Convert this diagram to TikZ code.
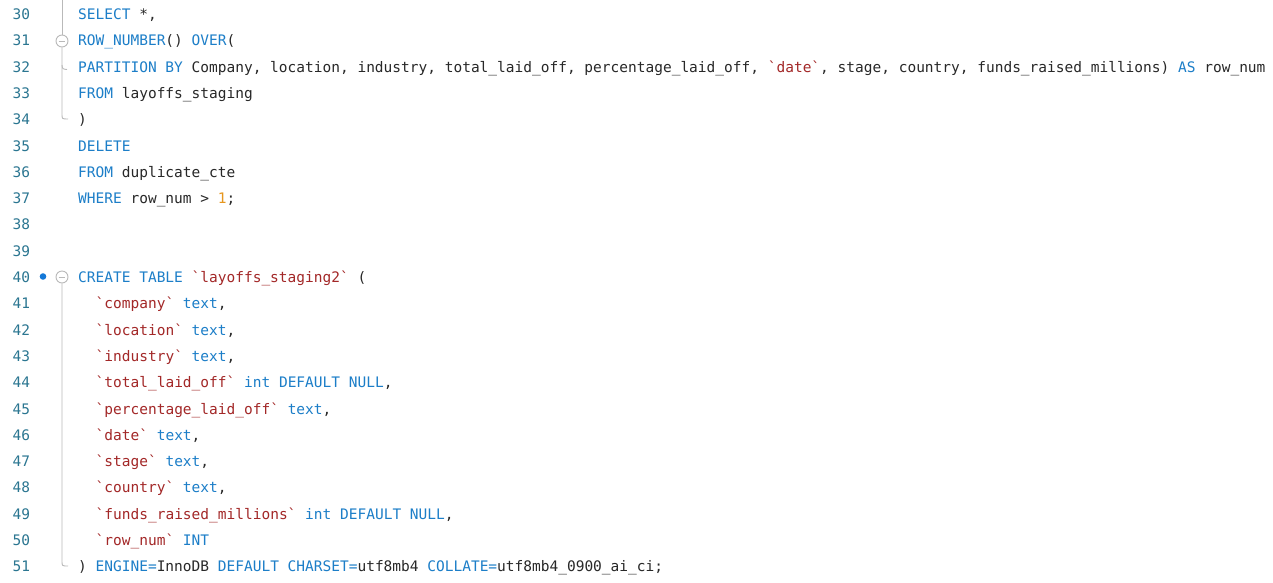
\documentclass[tikz,border=0pt]{standalone}
\usepackage{fontspec}
\setmonofont{DejaVu Sans Mono}
\usepackage{xcolor}
\usepackage{tikz}
\definecolor{kwblue}{RGB}{28,126,200}
\definecolor{strred}{RGB}{163,40,40}
\definecolor{numorange}{RGB}{230,150,30}
\definecolor{lnblue}{RGB}{43,118,145}
\definecolor{plain}{RGB}{40,40,40}
\definecolor{foldgray}{RGB}{185,185,185}
\definecolor{dotblue}{RGB}{20,120,215}
\newcommand{\kw}[1]{\textcolor{kwblue}{#1}}
\newcommand{\strq}[1]{\textcolor{strred}{#1}}
\newcommand{\numlit}[1]{\textcolor{numorange}{#1}}
\frenchspacing

\begin{document}
\begin{tikzpicture}[x=1pt, y=-1pt,
		code/.style={anchor=base west, inner sep=0, text=plain, font=\ttfamily\fontsize{14.5}{17}\selectfont},
		lnum/.style={code, text=lnblue},
		fold/.style={draw=foldgray, line width=0.9pt},
		foldbox/.style={circle, fold, fill=white, minimum size=12pt, inner sep=0}]
		\fill[white] (0,0) rectangle (1273,582);
		\useasboundingbox (0,0) rectangle (1273,582);

		% line numbers
		\foreach \n in {30,...,51}
			\node[lnum] (n\n) at (12.5, {19.5+(\n-30)*26.3}) {\n};

		\node[code] (l30) at (78,19.5) {\kw{SELECT} *,};
		\node[code] (l31) at (78,45.8) {\kw{ROW\_NUMBER}() \kw{OVER}(};
		\node[code] (l32) at (78,72.1) {\kw{PARTITION BY} Company, location, industry, total\_laid\_off, percentage\_laid\_off, \strq{`date`}, stage, country, funds\_raised\_millions) \kw{AS} row\_num};
		\node[code] (l33) at (78,98.4) {\kw{FROM} layoffs\_staging};
		\node[code] (l34) at (78,124.7) {)};
		\node[code] (l35) at (78,151.0) {\kw{DELETE}};
		\node[code] (l36) at (78,177.3) {\kw{FROM} duplicate\_cte};
		\node[code] (l37) at (78,203.6) {\kw{WHERE} row\_num > \numlit{1};};

		\node[code] (l40) at (78,282.5) {\kw{CREATE TABLE} \strq{`layoffs\_staging2`} (};
		\node[code] (l41) at (95.5,308.8) {\strq{`company`} \kw{text},};
		\node[code] (l42) at (95.5,335.1) {\strq{`location`} \kw{text},};
		\node[code] (l43) at (95.5,361.4) {\strq{`industry`} \kw{text},};
		\node[code] (l44) at (95.5,387.7) {\strq{`total\_laid\_off`} \kw{int DEFAULT NULL},};
		\node[code] (l45) at (95.5,414.0) {\strq{`percentage\_laid\_off`} \kw{text},};
		\node[code] (l46) at (95.5,440.3) {\strq{`date`} \kw{text},};
		\node[code] (l47) at (95.5,466.6) {\strq{`stage`} \kw{text},};
		\node[code] (l48) at (95.5,492.9) {\strq{`country`} \kw{text},};
		\node[code] (l49) at (95.5,519.2) {\strq{`funds\_raised\_millions`} \kw{int DEFAULT NULL},};
		\node[code] (l50) at (95.5,545.5) {\strq{`row\_num`} \kw{INT}};
		\node[code] (l51) at (78,571.8) {) \kw{ENGINE=}InnoDB \kw{DEFAULT CHARSET=}utf8mb4 \kw{COLLATE=}utf8mb4\_0900\_ai\_ci;};

		% fold markers
		\coordinate (top) at (62,0);
		\node[foldbox] (f31) at (62,41) {};
		\draw[fold] ([xshift=3pt]f31.west) -- ([xshift=-3pt]f31.east);
		\draw[fold] (top) -- (f31.north);
		\draw[fold] (f31.south) -- (62,114) .. controls (62,119) .. (68,119);
		\draw[fold] (62,65) .. controls (62.5,69) .. (67,69.5);

		\fill[dotblue] (43,276.5) circle (3.3pt);
		\node[foldbox] (f40) at (62,277) {};
		\draw[fold] ([xshift=3pt]f40.west) -- ([xshift=-3pt]f40.east);
		\draw[fold] (f40.south) -- (62,561) .. controls (62,566) .. (68,566);
	\end{tikzpicture}
\end{document}
